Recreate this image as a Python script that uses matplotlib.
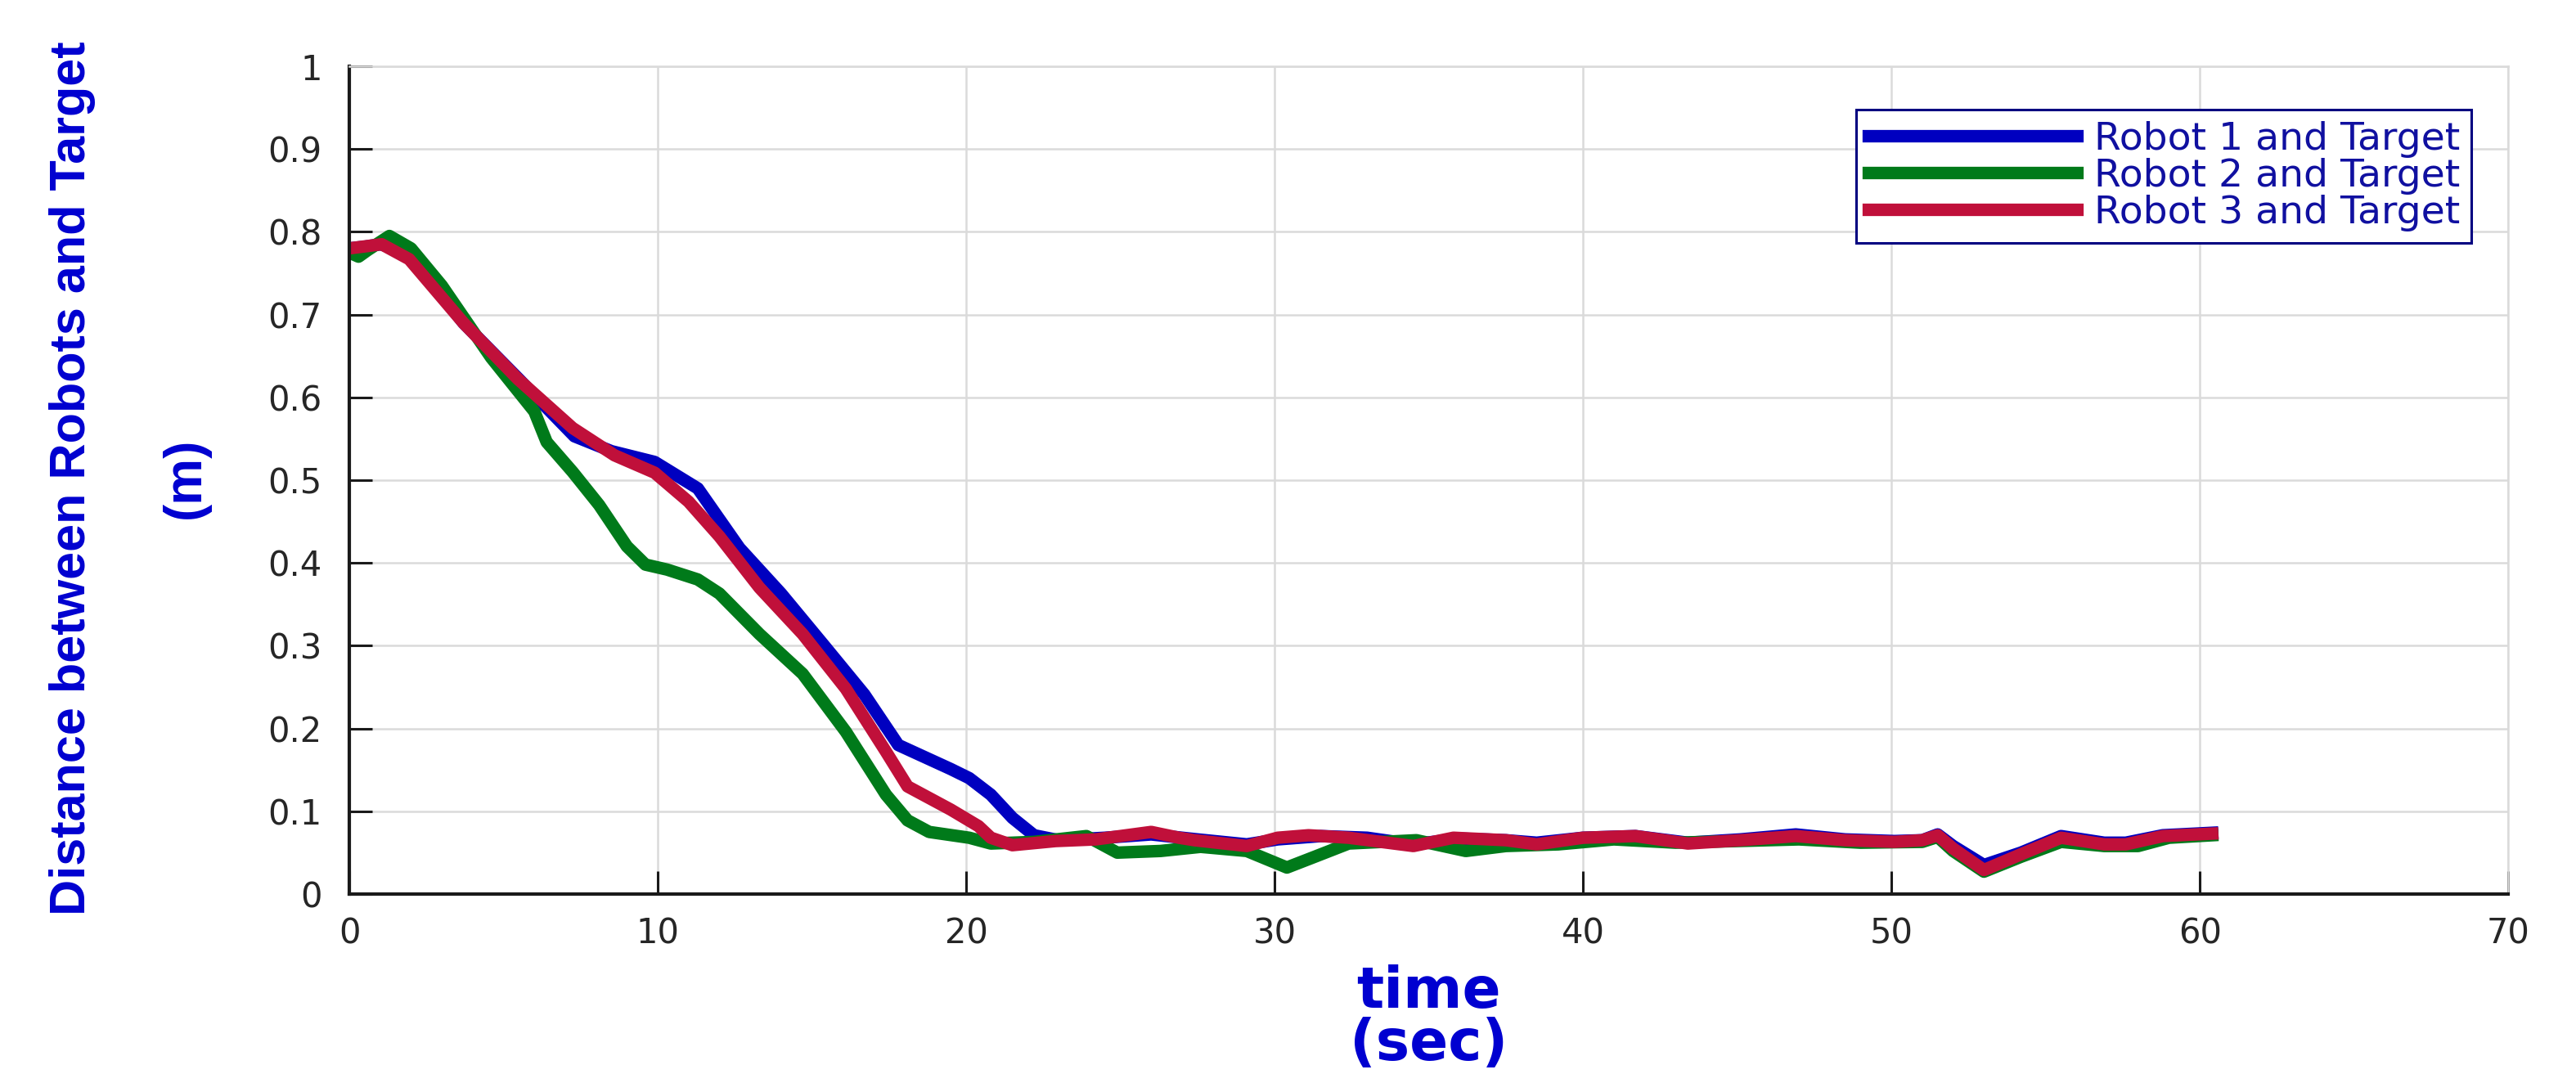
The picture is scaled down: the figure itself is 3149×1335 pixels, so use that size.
import matplotlib
matplotlib.use("Agg")
import matplotlib.pyplot as plt
from matplotlib import font_manager
from matplotlib.ticker import MultipleLocator, FuncFormatter

# time samples and distances
t_r1 = [0, 0.5, 1.0, 1.5, 2.0, 3.7, 5.5, 7.3, 8.5, 9.9, 11.3, 12.65, 14.0, 15.4, 16.7,
        17.8, 19.5, 20.1, 20.8, 21.5, 22.2, 23.0, 24.5, 26.0, 27.5, 29.1, 30.1, 31.5,
        33.0, 34.5, 36.0, 37.5, 38.5, 40.0, 41.7, 43.4, 45.1, 46.9, 48.5, 50.1, 51.0,
        51.5, 52.0, 53.0, 54.2, 55.5, 56.9, 57.6, 58.8, 60.4]
d_r1 = [0.78, 0.782, 0.785, 0.78, 0.77, 0.69, 0.622, 0.553, 0.535, 0.522, 0.49, 0.418,
        0.363, 0.30, 0.241, 0.18, 0.151, 0.14, 0.12, 0.092, 0.071, 0.065, 0.068, 0.072,
        0.066, 0.06, 0.066, 0.07, 0.068, 0.06, 0.067, 0.065, 0.062, 0.068, 0.07, 0.062,
        0.066, 0.072, 0.066, 0.064, 0.065, 0.072, 0.058, 0.035, 0.05, 0.07, 0.062, 0.062,
        0.071, 0.074]

t_r2 = [0, 0.3, 0.6, 1.3, 2.0, 3.0, 4.6, 6.0, 6.4, 7.24, 8.1, 9.0, 9.6, 10.3, 11.3, 12.0,
        13.3, 14.7, 16.1, 17.4, 18.1, 18.8, 20.1, 20.8, 22.2, 23.9, 24.9, 26.3, 27.6, 29.1,
        30.4, 31.3, 32.4, 34.6, 36.2, 37.5, 39.2, 41.0, 43.0, 45.0, 47.0, 49.0, 51.0, 51.5,
        52.0, 53.0, 54.2, 55.5, 56.9, 58.0, 59.0, 60.4]
d_r2 = [0.775, 0.77, 0.778, 0.795, 0.78, 0.735, 0.648, 0.583, 0.546, 0.51, 0.47, 0.42,
        0.398, 0.392, 0.38, 0.363, 0.314, 0.266, 0.196, 0.12, 0.089, 0.075, 0.068, 0.061,
        0.063, 0.07, 0.05, 0.052, 0.057, 0.052, 0.032, 0.045, 0.061, 0.065, 0.052, 0.058,
        0.06, 0.066, 0.062, 0.064, 0.066, 0.062, 0.063, 0.069, 0.052, 0.027, 0.045, 0.063,
        0.058, 0.058, 0.068, 0.071]

t_r3 = [0, 1.05, 1.94, 3.7, 5.47, 7.24, 8.6, 9.9, 11.0, 12.0, 13.3, 14.7, 16.1, 17.4, 18.1,
        19.5, 20.4, 20.8, 21.5, 22.9, 24.2, 26.0, 26.9, 27.4, 29.1, 30.1, 31.1, 32.4, 34.5,
        35.8, 37.5, 38.5, 40.0, 41.7, 43.4, 45.1, 46.9, 48.5, 50.1, 51.0, 51.5, 52.0, 53.0,
        54.2, 55.5, 56.9, 57.6, 58.8, 60.4]
d_r3 = [0.78, 0.785, 0.767, 0.69, 0.622, 0.563, 0.53, 0.509, 0.474, 0.432, 0.37, 0.314,
        0.248, 0.172, 0.13, 0.102, 0.082, 0.068, 0.059, 0.064, 0.066, 0.075, 0.068, 0.065,
        0.058, 0.068, 0.071, 0.068, 0.058, 0.068, 0.065, 0.06, 0.068, 0.07, 0.061, 0.065,
        0.07, 0.065, 0.063, 0.065, 0.071, 0.055, 0.029, 0.048, 0.068, 0.06, 0.06, 0.07, 0.073]

labels = ["Robot 1 and Target", "Robot 2 and Target", "Robot 3 and Target"]

# pick a narrow bold face for the rotated label if there is one
names = {f.name for f in font_manager.fontManager.ttflist}
if "Liberation Sans Narrow" in names:
    ylab_font, ylab_size = "Liberation Sans Narrow", 54
else:
    ylab_font, ylab_size = "Liberation Sans", 44

fig = plt.figure(figsize=(31.49, 13.35), dpi=100)
ax = fig.add_axes([0.1356, 0.1813, 0.8381, 0.758])

grid_c = "#dadada"
lw = 11
ax.plot(t_r1, d_r1, color="#0000c0", lw=lw, solid_joinstyle="round", label=labels[0])
ax.plot(t_r2, d_r2, color="#007a1a", lw=lw, solid_joinstyle="round", label=labels[1])
ax.plot(t_r3, d_r3, color="#c0103a", lw=lw, solid_joinstyle="round", label=labels[2])

ax.set_xlim(0, 70)
ax.set_ylim(0, 1)
ax.xaxis.set_major_locator(MultipleLocator(10))
ax.yaxis.set_major_locator(MultipleLocator(0.1))
ax.yaxis.set_major_formatter(FuncFormatter(lambda v, p: f"{v:g}"))
ax.grid(True, color=grid_c, lw=1.8)
ax.set_axisbelow(True)

for s in ["left", "bottom"]:
    ax.spines[s].set_color("#1a1a1a")
    ax.spines[s].set_linewidth(3)
for s in ["top", "right"]:
    ax.spines[s].set_color(grid_c)
    ax.spines[s].set_linewidth(1.8)

ax.tick_params(direction="in", length=20, width=2.2, color="#1a1a1a",
               labelsize=30, labelcolor="#262626")
ax.tick_params(axis="y", pad=24)
ax.tick_params(axis="x", pad=20)

# axis labels (two lines each, bold blue)
ax.text(0.5, -0.085, "time\n(sec)", transform=ax.transAxes, ha="center", va="top",
        fontsize=50, fontweight="bold", color="#0000d0", family="DejaVu Sans",
        linespacing=0.95)
fig.text(0.028, 0.562, "Distance between Robots and Target", rotation=90,
         ha="center", va="center", fontsize=ylab_size, fontweight="bold",
         color="#0000d0", family=ylab_font)
fig.text(0.072, 0.562, "(m)", rotation=90, ha="center", va="center",
         fontsize=ylab_size + 2, fontweight="bold", color="#0000d0", family=ylab_font)

leg = ax.legend(loc="upper right", bbox_to_anchor=(0.983, 0.948), fontsize=34,
                frameon=True, fancybox=False, framealpha=1, edgecolor="#000080",
                handlelength=5.4, handletextpad=0.45, labelspacing=0.0,
                borderpad=0.3, borderaxespad=0)
leg.get_frame().set_linewidth(2.2)
for txt in leg.get_texts():
    txt.set_color("#1010a0")
for ln in leg.get_lines():
    ln.set_linewidth(lw)

fig.savefig("out.png", dpi=100)
